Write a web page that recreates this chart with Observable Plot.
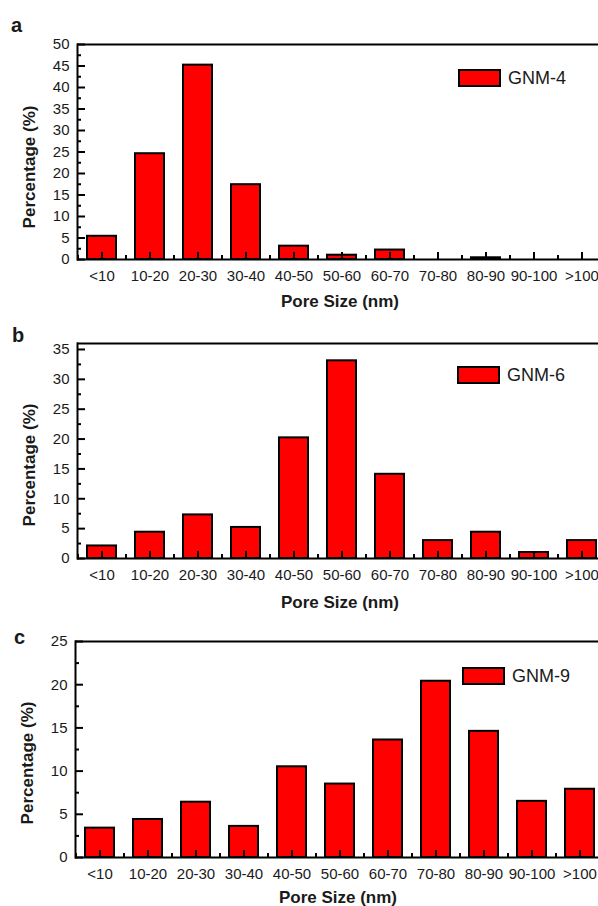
<!DOCTYPE html>
<html>
<head>
<meta charset="utf-8">
<script src="https://cdn.jsdelivr.net/npm/d3@7"></script>
<script src="https://cdn.jsdelivr.net/npm/@observablehq/plot@0.6"></script>
<style>
  html, body { margin: 0; padding: 0; background: #fff; }
  #wrap { position: relative; width: 598px; height: 906px; overflow: hidden;
          font-family: "Liberation Sans", Arial, sans-serif; color: #1a1a1a; }
  .panel { position: absolute; left: 0; }
  .txt { position: absolute; white-space: nowrap; line-height: 1; }
  .letter { font-weight: bold; font-size: 20px; }
  .xtitle { font-weight: bold; font-size: 17px; transform: translateX(-50%); }
  .ytitle { font-weight: bold; font-size: 17px; transform: translate(-50%, -50%) rotate(-90deg); }
  .legtext { font-size: 18px; }
  .swatch { position: absolute; box-sizing: border-box; background: #ff0000; border: 2px solid #000; }
</style>
</head>
<body>
<div id="wrap"></div>
<script>
// ---- data ----
const categories = ["<10", "10-20", "20-30", "30-40", "40-50", "50-60", "60-70", "70-80", "80-90", "90-100", ">100"];
const gnm4 = [5.4, 24.6, 45.2, 17.4, 3.1, 1.0, 2.2, 0, 0.4, 0, 0];
const gnm6 = [2.1, 4.4, 7.3, 5.2, 20.2, 33.1, 14.1, 3.0, 4.4, 1.0, 3.0];
const gnm9 = [3.4, 4.4, 6.4, 3.6, 10.5, 8.5, 13.6, 20.4, 14.6, 6.5, 7.9];
const yTicksA = [0, 5, 10, 15, 20, 25, 30, 35, 40, 45, 50];
const yMinorA = [2.5, 7.5, 12.5, 17.5, 22.5, 27.5, 32.5, 37.5, 42.5, 47.5];
const yTicksB = [0, 5, 10, 15, 20, 25, 30, 35];
const yMinorB = [2.5, 7.5, 12.5, 17.5, 22.5, 27.5, 32.5];
const yTicksC = [0, 5, 10, 15, 20, 25];
const yMinorC = [2.5, 7.5, 12.5, 17.5, 22.5];
const seriesNames = ["GNM-4", "GNM-6", "GNM-9"];
const panelLetters = ["a", "b", "c"];
const xTitle = "Pore Size (nm)";
const yTitle = "Percentage (%)";

const wrap = document.getElementById("wrap");
const step = 48;
const W = 598;

function addText(cls, text, style) {
  const d = document.createElement("div");
  d.className = "txt " + cls;
  d.textContent = text;
  Object.assign(d.style, style);
  wrap.appendChild(d);
  return d;
}

function panel(values, cfg) {
  const data = categories.map((c, i) => ({cat: c, value: values[i]}));
  const ml = cfg.ml;
  const frameW = W - ml;                       // marginRight = 0
  const frameH = cfg.height - cfg.mt - cfg.mb;
  const tickStyle = {stroke: "#000", strokeWidth: 2};
  const chart = Plot.plot({
    width: W,
    height: cfg.height,
    marginTop: cfg.mt,
    marginBottom: cfg.mb,
    marginLeft: ml,
    marginRight: 0,
    style: {fontFamily: "'Liberation Sans', Arial, sans-serif", fontSize: "15px", color: "#1a1a1a", background: "transparent"},
    x: {type: "band", domain: categories, range: [ml, ml + categories.length * step], paddingInner: 0.4, paddingOuter: 0.2},
    y: {domain: [0, cfg.yMax]},
    marks: [
      Plot.barY(data, {x: "cat", y: "value", fill: "#ff0000", stroke: "#000", strokeWidth: 2}),
      Plot.ruleY([0], {stroke: "#000", strokeWidth: 2}),
      Plot.ruleY([cfg.yMax], {stroke: "#000", strokeWidth: 2}),
      Plot.frame({anchor: "left", stroke: "#000", strokeWidth: 2}),
      // inward x ticks: major at band centres, minor at band boundaries
      Plot.ruleX(categories, {x: d => d, insetTop: frameH - 7, ...tickStyle}),
      Plot.ruleX(categories, {x: d => d, dx: -step / 2, insetTop: frameH - 4, ...tickStyle}),
      // inward y ticks
      Plot.ruleY(cfg.yTicks, {y: d => d, insetRight: frameW - 8, ...tickStyle}),
      Plot.ruleY(cfg.yMinor, {y: d => d, insetRight: frameW - 4, ...tickStyle}),
      Plot.axisX({tickSize: 0, tickPadding: 11, label: null, fill: "#1a1a1a"}),
      Plot.axisY(cfg.yTicks, {tickSize: 0, tickPadding: 8, label: null, fill: "#1a1a1a"})
    ]
  });
  const holder = document.createElement("div");
  holder.className = "panel";
  holder.style.top = cfg.top + "px";
  holder.appendChild(chart);
  wrap.appendChild(holder);

  addText("letter", cfg.letter, {left: cfg.letterX + "px", top: (cfg.letterBase - 0.8465 * 20) + "px"});
  addText("xtitle", xTitle, {left: cfg.xtX + "px", top: (cfg.xtBase - 0.8465 * 17) + "px"});
  addText("ytitle", yTitle, {left: cfg.ytX + "px", top: cfg.ytY + "px"});
  const sw = document.createElement("div");
  sw.className = "swatch";
  Object.assign(sw.style, {left: cfg.legX + "px", top: cfg.legY + "px", width: "43px", height: "18px"});
  wrap.appendChild(sw);
  addText("legtext", cfg.name, {left: (cfg.legX + 50) + "px", top: (cfg.legY + 9 + 6.5 - 0.8465 * 18) + "px"});
}

panel(gnm4, {top: 0, height: 310, mt: 44, mb: 51, ml: 77, yMax: 50, yTicks: yTicksA, yMinor: yMinorA,
  letter: panelLetters[0], letterX: 11, letterBase: 32,
  xtX: 340, xtBase: 307.5, ytX: 28.5, ytY: 167, legX: 458, legY: 69, name: seriesNames[0]});
panel(gnm6, {top: 310, height: 300, mt: 33, mb: 52, ml: 77, yMax: 36, yTicks: yTicksB, yMinor: yMinorB,
  letter: panelLetters[1], letterX: 12, letterBase: 342,
  xtX: 340, xtBase: 608, ytX: 28.5, ytY: 465, legX: 457, legY: 366, name: seriesNames[1]});
panel(gnm9, {top: 610, height: 296, mt: 31, mb: 49, ml: 75, yMax: 25, yTicks: yTicksC, yMinor: yMinorC,
  letter: panelLetters[2], letterX: 14, letterBase: 644,
  xtX: 338, xtBase: 903, ytX: 27, ytY: 763, legX: 462, legY: 667, name: seriesNames[2]});
</script>
</body>
</html>
